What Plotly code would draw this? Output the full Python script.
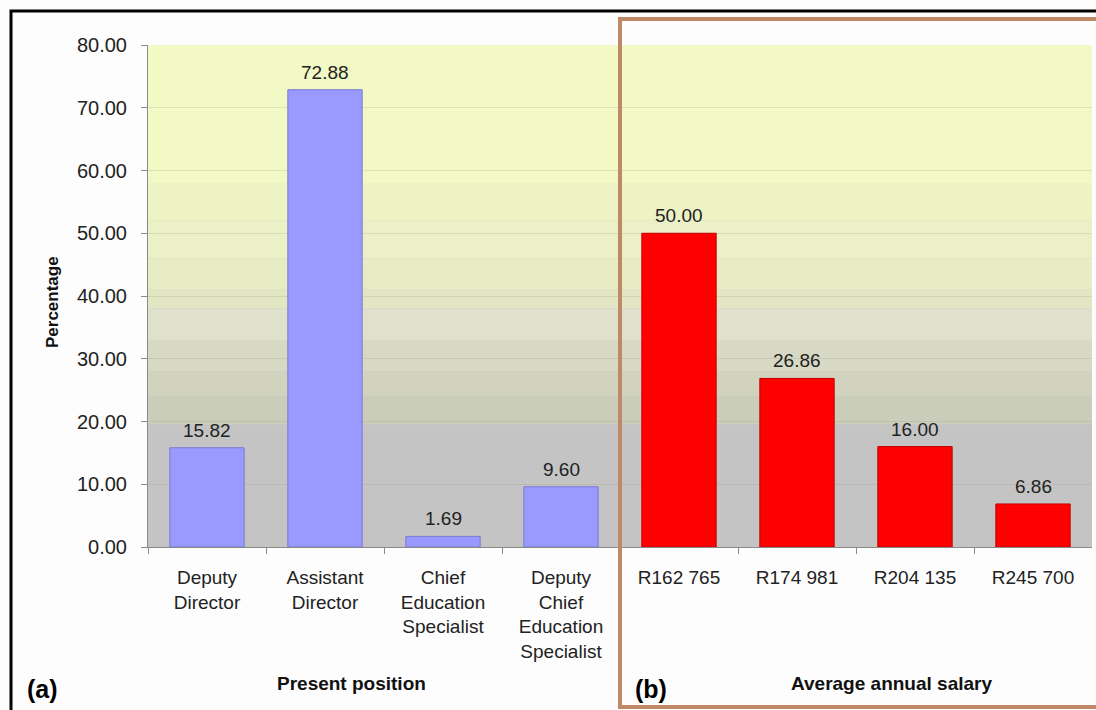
import plotly.graph_objects as go

# ---- data ----
positions = ["Deputy<br>Director", "Assistant<br>Director", "Chief<br>Education<br>Specialist",
             "Deputy<br>Chief<br>Education<br>Specialist"]
position_pct = [15.82, 72.88, 1.69, 9.60]
salaries = ["R162 765", "R174 981", "R204 135", "R245 700"]
salary_pct = [50.00, 26.86, 16.00, 6.86]
y_ticks = [0, 10, 20, 30, 40, 50, 60, 70, 80]

W, H = 1096, 710
PX0, PX1 = 148, 1092      # plot area in pixels
PY0, PY1 = 45, 547
FONT = "Liberation Sans, Arial, sans-serif"

fig = go.Figure()
fig.add_trace(go.Bar(x=positions, y=position_pct, width=0.63,
                     marker=dict(color="#9999ff", line=dict(color="#7a7ad0", width=1)),
                     showlegend=False))
fig.add_trace(go.Bar(x=salaries, y=salary_pct, width=0.63,
                     marker=dict(color="#ff0000", line=dict(color="#c00000", width=1)),
                     showlegend=False))

annotations = []
for cat, v in list(zip(positions, position_pct)) + list(zip(salaries, salary_pct)):
    annotations.append(dict(x=cat, y=v, xref="x", yref="y", text=f"{v:.2f}", showarrow=False,
                            yanchor="bottom", yshift=5, font=dict(size=19, color="#222", family=FONT)))

# background bands (styling)
bands = [(58, 80, "#f3f9c4"), (52, 58, "#eef3c6"), (46, 52, "#ebf0c6"), (41, 46, "#e8ecc5"),
         (38, 41, "#e2e6c3"), (33, 38, "#dfe1cc"), (28, 33, "#d7d9c5"), (24, 28, "#d1d3bf"),
         (19.5, 24, "#cacdba"), (0, 19.5, "#c4c4c4")]
shapes = []
for y0, y1, c in bands:
    shapes.append(dict(type="rect", xref="x domain", yref="y", x0=0, x1=1, y0=y0, y1=y1,
                       fillcolor=c, line=dict(width=0), layer="below"))
# outer frame
shapes.append(dict(type="rect", xref="paper", yref="paper", x0=11 / W, x1=1.02,
                   y0=-0.02, y1=(H - 11) / H, line=dict(color="black", width=3), fillcolor="rgba(0,0,0,0)"))
# brown box around panel (b)
shapes.append(dict(type="rect", xref="paper", yref="paper", x0=620 / W, x1=1.02,
                   y0=(H - 707) / H, y1=(H - 19) / H, line=dict(color="#c08866", width=4),
                   fillcolor="rgba(0,0,0,0)"))

def label(text, x, y, size, angle=0, color="#111"):
    return dict(text=text, x=x / W, y=(H - y) / H, xref="paper", yref="paper",
                xanchor="center", yanchor="middle", textangle=angle, showarrow=False,
                font=dict(size=size, color=color, family=FONT))

annotations += [
    label("<b>Percentage</b>", 52, 302, 17, angle=-90),
    label("<b>Present position</b>", 351, 683, 19),
    label("<b>Average annual salary</b>", 891, 683, 19),
    label("<b>(a)</b>", 42, 689, 25, color="#000"),
    label("<b>(b)</b>", 651, 689, 25, color="#000"),
]

fig.update_layout(
    width=W, height=H, margin=dict(l=0, r=0, t=0, b=0, pad=0, autoexpand=False),
    paper_bgcolor="#fdfdfd", plot_bgcolor="#c4c4c4",
    barmode="overlay", shapes=shapes, annotations=annotations,
    font=dict(family=FONT, color="#222"),
    xaxis=dict(domain=[PX0 / W, PX1 / W], categoryorder="array", automargin=False,
               categoryarray=positions + salaries, showgrid=False,
               showline=True, linecolor="#8a8a8a", linewidth=1,
               ticks="outside", tickson="boundaries", ticklen=6, tickcolor="#8a8a8a",
               tickfont=dict(size=19, color="#222"), ticklabelstandoff=13),
    yaxis=dict(domain=[(H - PY1) / H, (H - PY0) / H], range=[0, 80], tickvals=y_ticks,
               tickformat=".2f", showgrid=True, gridcolor="rgba(150,150,120,0.22)", gridwidth=1,
               showline=True, linecolor="#8a8a8a", linewidth=1, zeroline=False, automargin=False,
               ticks="outside", ticklen=6, tickcolor="#8a8a8a",
               tickfont=dict(size=20, color="#222"), ticklabelstandoff=10),
)

fig.write_html("out.html", config={"displayModeBar": False},
               post_script="document.body.style.margin='0';")
